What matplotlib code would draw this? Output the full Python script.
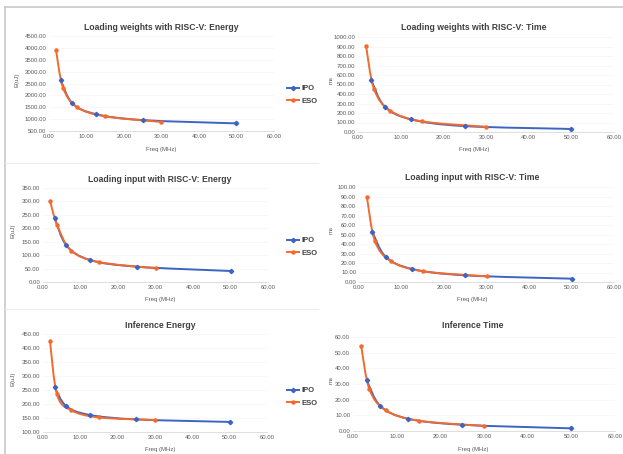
import numpy as np
import matplotlib
matplotlib.use("Agg")
import matplotlib.pyplot as plt
from matplotlib.path import Path
from matplotlib.patches import PathPatch
from matplotlib.lines import Line2D
from matplotlib.ticker import FormatStrFormatter

plt.rcParams['font.family'] = ['Liberation Sans Narrow', 'Liberation Sans', 'DejaVu Sans']

W, H = 623, 454

# ---- data ----
freq_ipo = [3.125, 6.25, 12.5, 25, 50]
freq_eso = [1.875, 3.75, 7.5, 15, 30]

lw_energy_ipo = [2640, 1660, 1210, 960, 820]
lw_energy_eso = [3900, 2320, 1505, 1115, 880]
lw_time_ipo = [544, 268, 132, 62, 32]
lw_time_eso = [910, 453, 226, 112, 55]

li_energy_ipo = [238, 136, 82, 57, 41]
li_energy_eso = [302, 213, 117, 74, 51]
li_time_ipo = [53, 26.7, 13.7, 7.0, 3.5]
li_time_eso = [89, 43, 22, 11.3, 6.0]

inf_energy_ipo = [259, 192, 161, 145, 136]
inf_energy_eso = [425, 234, 178, 152, 143]
inf_time_ipo = [32.5, 16, 7.9, 4.0, 1.7]
inf_time_eso = [54.3, 26.7, 13.2, 6.6, 3.2]

titles = ["Loading weights with RISC-V: Energy", "Loading weights with RISC-V: Time",
          "Loading input with RISC-V: Energy", "Loading input with RISC-V: Time",
          "Inference Energy", "Inference Time"]
ylabels = ["E(uJ)", "ms", "E(uJ)", "ms", "E(uJ)", "ms"]
series_names = ["IPO", "ESO"]

BLUE = "#3d64c2"
ORANGE = "#f26a2e"
TXT = "#5a5a5a"

# panel layout in pixels: left, right, top, bottom, ymin, ymax, ystep
panels = [
    (49, 274, 36, 131, 500, 4500, 500),
    (358, 614, 37, 132, 0, 1000, 100),
    (43, 268, 188, 282, 0, 350, 50),
    (359, 614, 187, 282, 0, 100, 10),
    (43, 267, 334, 432, 100, 450, 50),
    (353, 615, 337, 431, 0, 60, 10),
]
series = [
    (lw_energy_ipo, lw_energy_eso), (lw_time_ipo, lw_time_eso),
    (li_energy_ipo, li_energy_eso), (li_time_ipo, li_time_eso),
    (inf_energy_ipo, inf_energy_eso), (inf_time_ipo, inf_time_eso),
]


def smooth_path(x, y):
    # excel-style smoothed line: catmull-rom segments as cubic beziers
    pts = np.column_stack([x, y]).astype(float)
    verts = [pts[0]]
    codes = [Path.MOVETO]
    n = len(pts)
    for i in range(n - 1):
        p0 = pts[i - 1] if i > 0 else pts[i]
        p1, p2 = pts[i], pts[i + 1]
        p3 = pts[i + 2] if i + 2 < n else pts[i + 1]
        verts += [p1 + (p2 - p0) / 6, p2 - (p3 - p1) / 6, p2]
        codes += [Path.CURVE4] * 3
    return Path(verts, codes)


fig = plt.figure(figsize=(W / 100, H / 100), dpi=100)

# outer frame and row separators
fig.add_artist(Line2D([5 / W, 5 / W], [0, 1 - 7 / H], color="#c8c8c8", lw=1.2))
fig.add_artist(Line2D([5 / W, 1], [1 - 7 / H, 1 - 7 / H], color="#c8c8c8", lw=1.2))
for yy in (163, 309):
    fig.add_artist(Line2D([5 / W, 318 / W], [1 - yy / H, 1 - yy / H], color="#ececec", lw=0.8))

for k, (l, r, t, b, ymin, ymax, ystep) in enumerate(panels):
    ax = fig.add_axes([l / W, 1 - b / H, (r - l) / W, (b - t) / H])
    ipo, eso = series[k]
    for xs, ys, c in ((freq_ipo, ipo, BLUE), (freq_eso, eso, ORANGE)):
        ax.add_patch(PathPatch(smooth_path(xs, ys), fill=False, edgecolor=c, lw=1.4, zorder=3))
        ax.plot(xs, ys, ls="none", marker="D" if c == BLUE else "o", ms=2.2,
                color=c, zorder=4)
    ax.set_xlim(0, 60)
    ax.set_ylim(ymin, ymax)
    ax.set_xticks(np.arange(0, 61, 10))
    ax.set_yticks(np.arange(ymin, ymax + 0.1, ystep))
    ax.xaxis.set_major_formatter(FormatStrFormatter("%.2f"))
    ax.yaxis.set_major_formatter(FormatStrFormatter("%.2f"))
    ax.tick_params(labelsize=4.3, colors=TXT, length=0, pad=2)
    ax.grid(axis="y", color="#f4f4f4", lw=0.5)
    ax.set_axisbelow(True)
    for s in ("top", "right", "left"):
        ax.spines[s].set_visible(False)
    ax.spines["bottom"].set_color("#d9d9d9")
    ax.spines["bottom"].set_linewidth(0.6)

    cx = [161, 474, 160, 472, 160, 473][k]
    ty = [28, 28, 179, 178, 326, 325][k]
    fig.text(cx / W, 1 - ty / H, titles[k], ha="center", va="center",
             fontsize=6.2, fontweight="bold", color="#404040")
    fig.text(cx / W, 1 - ([149, 150, 300, 300, 449, 449][k]) / H, "Freq (MHz)",
             ha="center", va="center", fontsize=4.3, color=TXT)
    ylx = [17, 331, 13, 331, 13, 331][k]
    fig.text(ylx / W, 1 - ((t + b) / 2 - 4) / H, ylabels[k], rotation=90,
             ha="center", va="center", fontsize=4.3, color=TXT)

    if k % 2 == 0:
        handles = [Line2D([], [], color=BLUE, lw=1.4, marker="D", ms=2.2),
                   Line2D([], [], color=ORANGE, lw=1.4, marker="o", ms=2.2)]
        leg_y = [95, 247, 397][k // 2]
        leg = fig.legend(handles, series_names, loc="center left",
                         bbox_to_anchor=(280 / W, 1 - leg_y / H), frameon=False,
                         fontsize=5.5, handlelength=1.6, handletextpad=0.3,
                         labelspacing=0.7)
        for txt in leg.get_texts():
            txt.set_color("#404040")
            txt.set_fontweight("bold")

fig.savefig("out.png", dpi=100)
